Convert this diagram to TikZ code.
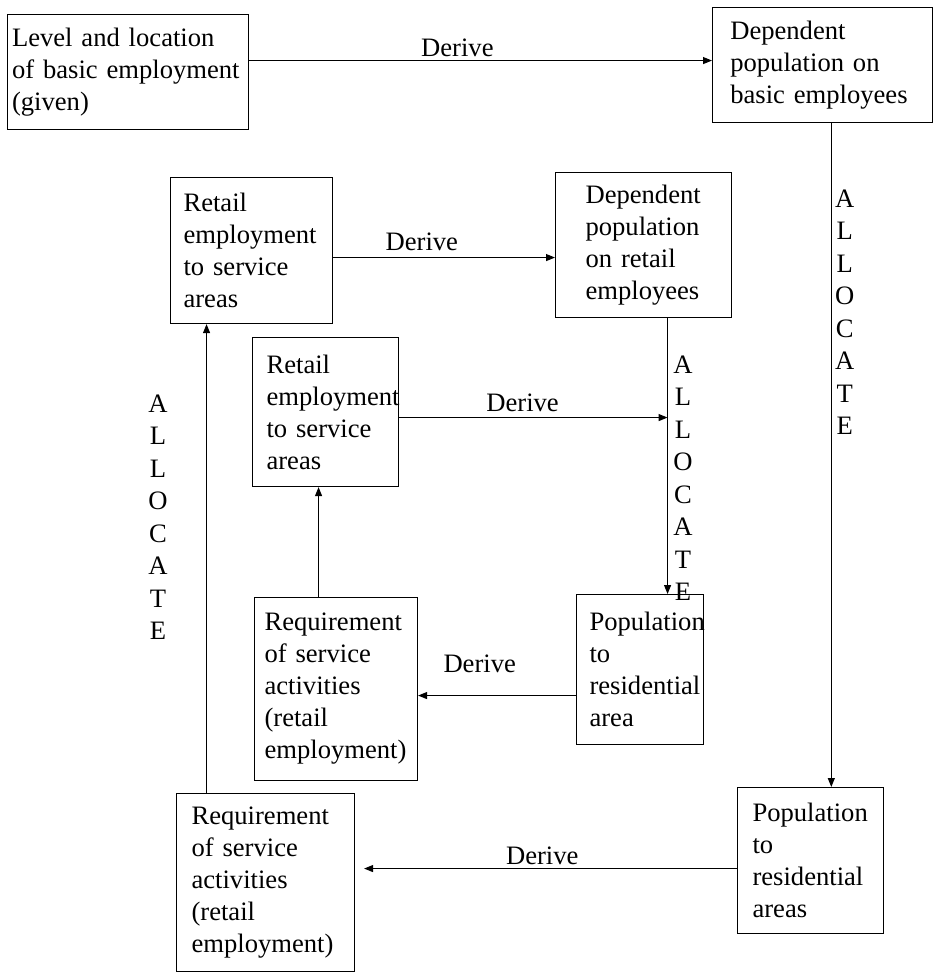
\documentclass[tikz,border=0pt]{standalone}
\usepackage{fontspec}
\setmainfont{Liberation Serif}
\usepackage{tikz}
\usetikzlibrary{arrows.meta}

\begin{document}
\begin{tikzpicture}[x=1bp,y=-1bp,font=\fontsize{26.6bp}{32bp}\selectfont,
 blk/.style={draw, line width=1.1bp, anchor=north west, align=left, inner xsep=4bp, inner ysep=6bp},
 arr/.style={line width=1.1bp, -{Triangle[length=9bp,width=7bp]}},
 vtxt/.style={align=center, font=\fontsize{26.6bp}{32.5bp}\selectfont}]
\useasboundingbox (0,0) rectangle (933,972);
\node[blk, minimum width=241bp, minimum height=115bp, text width=232bp] (basic) at (7,14) {Level and location\\of basic employment\\(given)};
\node[blk, minimum width=219.5bp, minimum height=115bp, text width=184bp] (depbasic) at (712,7) {Dependent\\population on\\basic employees};
\node[blk, minimum width=162bp, minimum height=146bp, text width=136bp] (retail1) at (170,177) {Retail\\employment\\to service\\areas};
\node[blk, minimum width=176bp, minimum height=145bp, text width=116bp] (deprt) at (555,172) {Dependent\\population\\on retail\\employees};
\node[blk, minimum width=146bp, minimum height=149bp, text width=118bp] (retail2) at (252,337) {Retail\\employment\\to service\\areas};
\node[blk, minimum width=163bp, minimum height=183bp, text width=143bp] (req2) at (254,597) {Requirement\\of service\\activities\\(retail\\employment)};
\node[blk, minimum width=127bp, minimum height=150bp, text width=101bp] (pop2) at (576,594) {Population\\to\\residential\\area};
\node[blk, minimum width=178bp, minimum height=177.5bp, text width=148bp] (req1) at (176,793) {Requirement\\of service\\activities\\(retail\\employment)};
\node[blk, minimum width=146bp, minimum height=146bp, text width=116bp] (pop1) at (737,787) {Population\\to\\residential\\areas};

\draw[arr] ([yshift=11.5bp]basic.east) -- ([yshift=11.5bp]basic.east -| depbasic.west) node[above,pos=.45] (d1) {Derive};
\draw[arr] ([xshift=9bp]depbasic.south) -- ([xshift=9bp]depbasic.south |- pop1.north) node[right,pos=.285,vtxt] (a1) {A\\L\\L\\O\\C\\A\\T\\E};
\draw[arr] ([xshift=24bp]deprt.south) coordinate (rtout) -- (rtout |- pop2.north) node[right=2bp,pos=.58,vtxt] (a2) {A\\L\\L\\O\\C\\A\\T\\E};
\draw[arr] ([yshift=-7bp]retail1.east) -- ([yshift=-7bp]retail1.east -| deprt.west) node[above=3bp,pos=.4] (d2) {Derive};
\draw[arr] ([yshift=-5.5bp]retail2.east) -- ([yshift=-5.5bp]retail2.east -| rtout) node[above=2bp,pos=.46] (d3) {Derive};
\draw[arr] ([xshift=-17.5bp]req2.north) -- ([xshift=-17.5bp]req2.north |- retail2.south);
\draw[arr] ([yshift=-26bp]pop2.west) -- ([yshift=-26bp]pop2.west -| req2.east) node[above=19bp,pos=.61] (d4) {Derive};
\draw[arr] ([xshift=-59bp]req1.north) -- ([xshift=-59bp]req1.north |- retail1.south) node[left=35bp,pos=.588,vtxt] (a3) {A\\L\\L\\O\\C\\A\\T\\E};
\draw[arr, shorten >=9bp] ([yshift=-8bp]pop1.west) -- ([yshift=-8bp]pop1.west -| req1.east) node[above,pos=.51] (d5) {Derive};
\end{tikzpicture}
\end{document}
